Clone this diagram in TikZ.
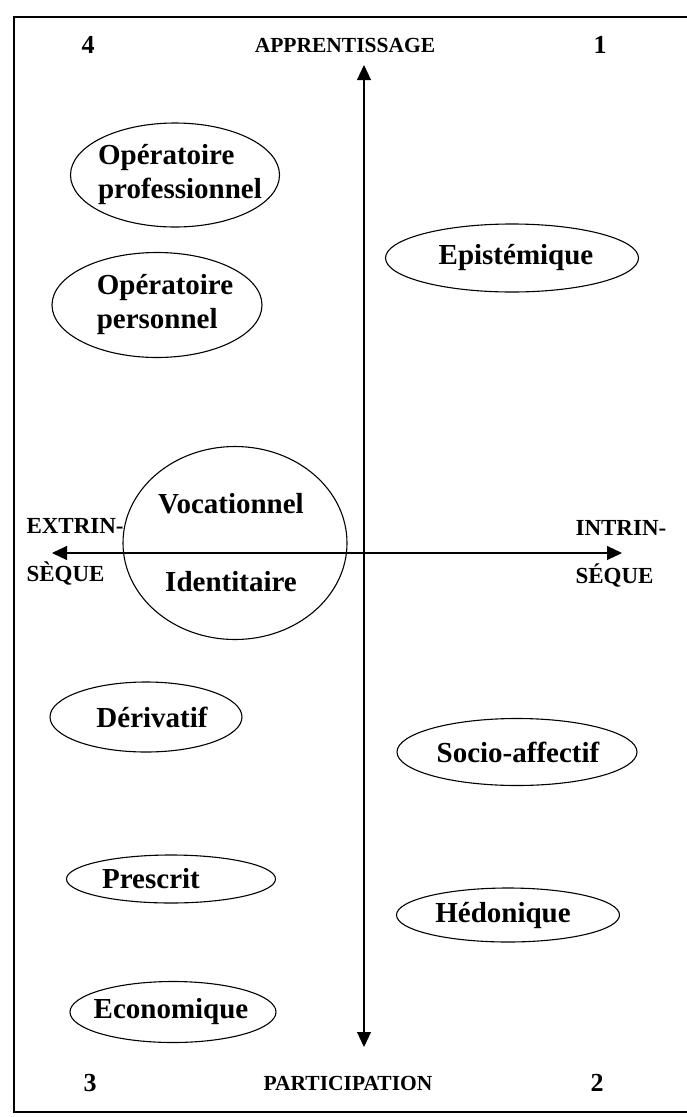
\documentclass[tikz,border=0pt]{standalone}
\usepackage{fontspec}
\setmainfont{Liberation Serif}
\usetikzlibrary{positioning,shapes.geometric,arrows.meta}

\begin{document}
\begin{tikzpicture}[x=1pt,y=-1pt,line width=1.1pt,
	ell/.style={draw,ellipse,inner sep=0pt},
	lab/.style={font=\fontsize{29}{34}\selectfont\bfseries},
	axe/.style={font=\fontsize{21.5}{24}\selectfont\bfseries},
	quad/.style={font=\fontsize{26}{28}\selectfont\bfseries},
	cote/.style={anchor=west,align=left,inner sep=0pt,font=\fontsize{23}{48}\selectfont\bfseries},
	>={Triangle[length=15pt,width=14pt]}]

\useasboundingbox (0,0) rectangle (687,1117);
\draw(687,17)-|(14,1112)--(687,1112);

\node[quad](q4) at (88,45) {4};
\node[axe](appr) at (345,45) {APPRENTISSAGE};
\node[quad](q1) at (600,45) {1};
\node[quad](q3) at (90,1083) {3};
\node[axe](part) at (348,1083) {PARTICIPATION};
\node[quad](q2) at (597,1083) {2};

% ellipses : nom/x/y/largeur/hauteur/decalage/alignement/texte
\foreach \n/\x/\y/\w/\h/\d/\a/\t in {
	opprof/175/175/209/104/5/left/{Opératoire\\professionnel},
	oppers/157/305/210/105/8/left/{Opératoire\\personnel},
	epist/512/258/253/68/4/center/{Epistémique},
	voc/235/543/224/193/-4/center/{Vocationnel\\[44pt]Identitaire},
	deriv/146/717/192/70/6/center/{Dérivatif},
	socio/517/752/240/67/1/center/{Socio-affectif},
	presc/171/879/209/48/-20/center/{Prescrit},
	hedon/508/915/223/54/-5/center/{Hédonique},
	econ/173/1012/206/61/-2/center/{Economique}}{
	\node[ell,minimum width=\w pt,minimum height=\h pt,label={[lab,align=\a,xshift=\d pt]center:{\t}}](\n) at (\x,\y) {};
}

\coordinate(top) at (364,65);
\coordinate(bot) at (364,1047);
\coordinate(gauche) at (52,553);
\coordinate(droite) at (622,553);
\draw[<->](bot)--(top);
\draw[<->](gauche)--(droite);

\node[cote](extr) at (26,552) {EXTRIN-\\SÈQUE};
\node[cote](intr) at (575,554) {INTRIN-\\SÉQUE};
\end{tikzpicture}
\end{document}
